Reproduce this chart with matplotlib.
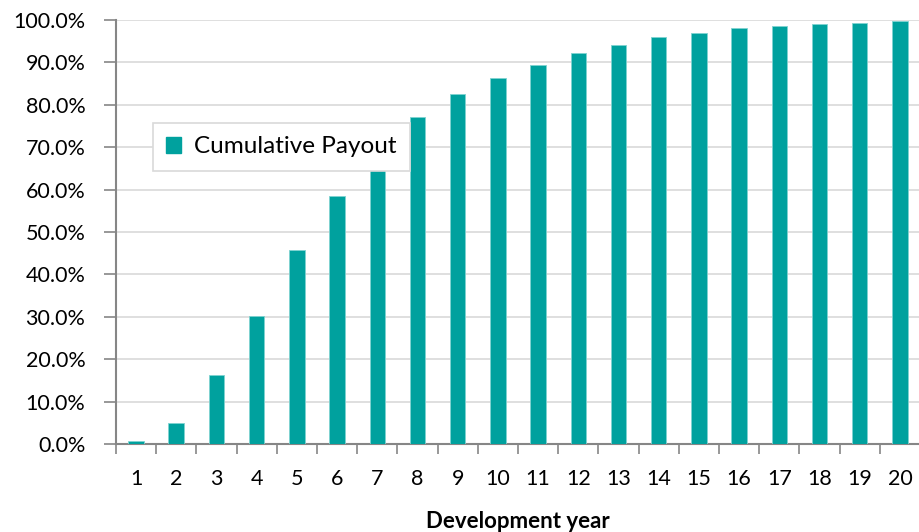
import matplotlib
matplotlib.use("Agg")
import matplotlib.pyplot as plt
from matplotlib.ticker import FuncFormatter, FixedLocator
from matplotlib.patches import Patch

years = list(range(1, 21))
payout = [0.6, 5.0, 16.3, 30.2, 45.8, 58.5, 66.0, 77.2, 82.5, 86.3,
          89.3, 92.2, 94.1, 96.0, 96.9, 98.1, 98.5, 99.1, 99.4, 99.8]
yticks = [0, 10, 20, 30, 40, 50, 60, 70, 80, 90, 100]

teal = "#00A19E"
plt.rcParams["font.family"] = ["Lato", "DejaVu Sans"]

fig = plt.figure(figsize=(9.2, 5.32), dpi=100)
ax = fig.add_axes([0.126, 0.1654, 0.874, 0.797])

ax.bar(years, payout, width=0.385, color=teal, edgecolor="#7FD3D1",
       linewidth=0.6, zorder=3, label="Cumulative Payout")

ax.set_xlim(0.5, 20.5)
ax.set_ylim(0, 100)
ax.set_yticks(yticks)
ax.yaxis.set_major_formatter(FuncFormatter(lambda v, p: f"{v:.1f}%"))
ax.yaxis.grid(True, color="#D9D9D9", linewidth=1.2, zorder=0)

ax.xaxis.set_major_locator(FixedLocator([y - 0.5 for y in years] + [20.5]))
ax.set_xticklabels([])
ax.xaxis.set_minor_locator(FixedLocator(years))
ax.set_xticklabels([str(y) for y in years], minor=True)
ax.tick_params(axis="x", which="major", length=7, width=1.2, color="#868686")
ax.tick_params(axis="x", which="minor", length=0, pad=18, labelsize=15.5)
ax.tick_params(axis="y", length=9, width=1.2, color="#868686", labelsize=15.5, pad=13)

for s in ["top", "right"]:
    ax.spines[s].set_visible(False)
for s in ["left", "bottom"]:
    ax.spines[s].set_color("#868686")
    ax.spines[s].set_linewidth(1.5)

ax.set_xlabel("Development year", fontsize=16, fontweight="bold", labelpad=16)

leg = ax.legend(handles=[Patch(color=teal, label="Cumulative Payout")],
                loc="upper left", bbox_to_anchor=(0.046, 0.757), fontsize=17.5,
                frameon=True, fancybox=False, framealpha=1,
                handlelength=0.6, handleheight=0.6,
                borderpad=0.55, handletextpad=0.55, borderaxespad=0)
leg.get_frame().set_edgecolor("#D9D9D9")
leg.get_frame().set_linewidth(1.2)
leg.set_zorder(5)

fig.savefig("out.png", dpi=100)
